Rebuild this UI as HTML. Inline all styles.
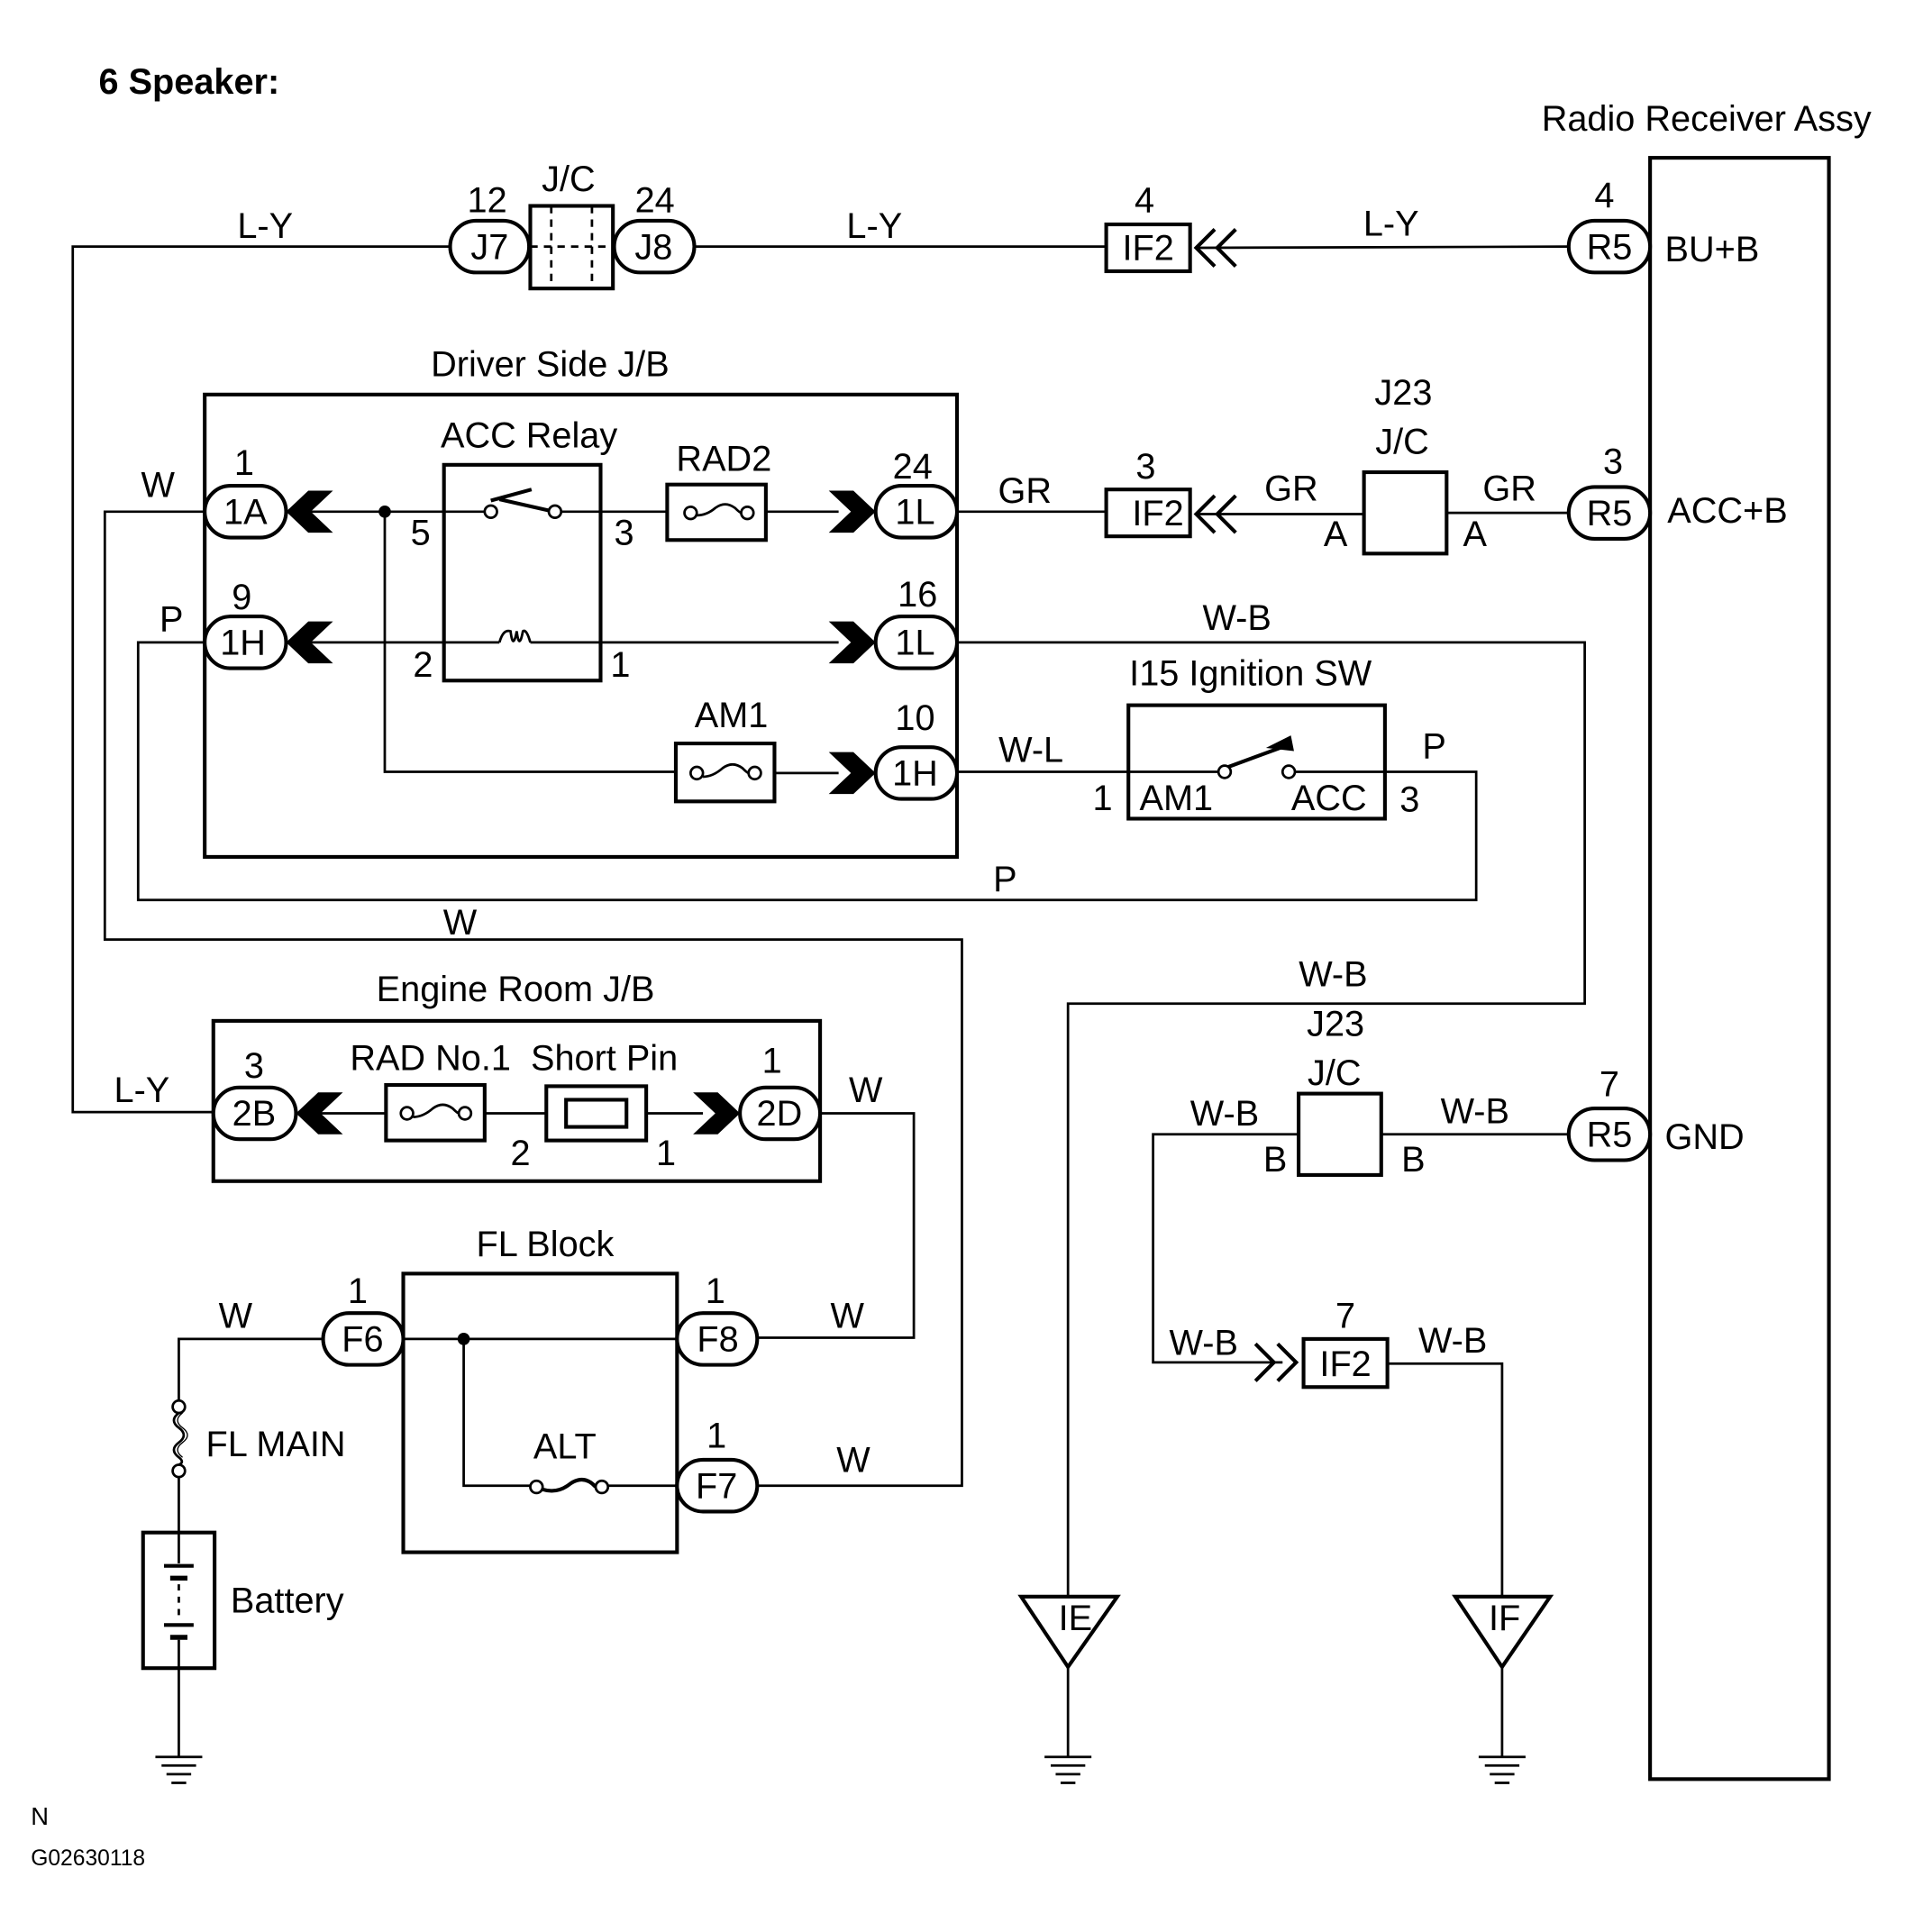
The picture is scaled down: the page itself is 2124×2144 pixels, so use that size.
<!DOCTYPE html>
<html><head><meta charset="utf-8"><style>
html,body{margin:0;padding:0;background:#fff;width:2124px;height:2144px;overflow:hidden}
svg{display:block}
text{font-family:"Liberation Sans",Arial,sans-serif;fill:#000}
</style></head><body>
<svg width="2124" height="2144" viewBox="0 0 1552 1567" preserveAspectRatio="none" xmlns="http://www.w3.org/2000/svg">
<defs>
<g id="chL"><polygon points="0,0 18,-17 38,-17 20,0 38,17 18,17" fill="#000"/></g>
<g id="chR"><polygon points="0,0 -18,-17 -38,-17 -20,0 -38,17 -18,17" fill="#000"/></g>
<g id="gnd" stroke="#000" stroke-width="2"><line x1="-19" y1="0" x2="19" y2="0"/><line x1="-14" y1="7" x2="14" y2="7"/><line x1="-10" y1="14" x2="10" y2="14"/><line x1="-6" y1="21" x2="6" y2="21"/></g>
</defs>
<g fill="none" stroke="#000" stroke-width="2">
<rect x="1338" y="128" width="145" height="1315" stroke-width="3"/>
<polyline points="365,200 59,200 59,902 173,902"/>
<rect x="430" y="167" width="67" height="67" stroke-width="3"/>
<line x1="447" y1="167" x2="447" y2="234" stroke-dasharray="6,5"/>
<line x1="480" y1="167" x2="480" y2="234" stroke-dasharray="6,5"/>
<line x1="430" y1="200" x2="497" y2="200" stroke-dasharray="6,5"/>
<line x1="563" y1="200" x2="897" y2="200"/>
<rect x="897" y="182" width="68" height="38" stroke-width="3"/>
<polyline points="985,186 970,201 985,216" stroke-width="3"/>
<polyline points="1002,186 987,201 1002,216" stroke-width="3"/>
<line x1="970" y1="201" x2="1272" y2="200"/>
<rect x="166" y="320" width="610" height="375" stroke-width="3"/>
<polyline points="166,415 85,415 85,762 780,762 780,1205 614,1205"/>
<line x1="232" y1="415" x2="360" y2="415"/>
<rect x="360" y="377" width="127" height="175" stroke-width="3"/>
<line x1="360" y1="415" x2="393" y2="415"/>
<circle cx="398" cy="415" r="5"/>
<line x1="398" y1="406" x2="431" y2="397" stroke-width="3"/>
<line x1="405" y1="405" x2="445" y2="414" stroke-width="3"/>
<circle cx="450" cy="415" r="5"/>
<line x1="455" y1="415" x2="541" y2="415"/>
<rect x="541" y="393" width="80" height="45" stroke-width="3"/>
<circle cx="560" cy="416" r="5"/><circle cx="606" cy="416" r="5"/>
<path d="M565,418 Q573,418 580,412 Q588,406 596,412 Q600,416 601,416"/>
<line x1="621" y1="415" x2="680" y2="415"/>
<line x1="776" y1="415" x2="897" y2="415"/>
<rect x="897" y="397" width="68" height="38" stroke-width="3"/>
<polyline points="985,402 970,417 985,432" stroke-width="3"/>
<polyline points="1002,402 987,417 1002,432" stroke-width="3"/>
<line x1="970" y1="417" x2="1106" y2="417"/>
<rect x="1106" y="383" width="67" height="66" stroke-width="3"/>
<line x1="1173" y1="416" x2="1272" y2="416"/>
<polyline points="166,521 112,521 112,730 1197,730 1197,626 1123,626"/>
<line x1="232" y1="521" x2="405" y2="521"/>
<path d="M405,521 Q408,510 414,512 Q416,528 419,512 Q421,528 424,512 Q427,510 430,521"/>
<line x1="430" y1="521" x2="680" y2="521"/>
<polyline points="776,521 1285,521 1285,814 866,814 866,1295"/>
<polyline points="312,415 312,626 548,626"/>
<rect x="548" y="603" width="80" height="47" stroke-width="3"/>
<circle cx="565" cy="627" r="5"/><circle cx="612" cy="627" r="5"/>
<path d="M570,630 Q578,630 586,623 Q594,617 602,623 Q606,627 607,627"/>
<line x1="628" y1="627" x2="680" y2="627"/>
<line x1="776" y1="626" x2="915" y2="626"/>
<rect x="915" y="572" width="208" height="92" stroke-width="3"/>
<line x1="915" y1="626" x2="988" y2="626"/>
<circle cx="993" cy="626" r="5"/><circle cx="1045" cy="626" r="5"/>
<line x1="996" y1="622" x2="1045" y2="604" stroke-width="3"/>
<polygon points="1030,606 1046,598 1048,608" fill="#000"/>
<line x1="1050" y1="626" x2="1123" y2="626"/>
<rect x="173" y="828" width="492" height="130" stroke-width="3"/>
<line x1="240" y1="903" x2="313" y2="903"/>
<rect x="313" y="880" width="80" height="45" stroke-width="3"/>
<circle cx="330" cy="903" r="5"/><circle cx="377" cy="903" r="5"/>
<path d="M335,906 Q343,906 351,899 Q359,893 367,899 Q371,903 372,903"/>
<line x1="393" y1="903" x2="443" y2="903"/>
<rect x="443" y="881" width="81" height="44" stroke-width="3"/>
<rect x="459" y="892" width="49" height="22" stroke-width="3"/>
<line x1="524" y1="903" x2="570" y2="903"/>
<polyline points="665,903 741,903 741,1085 614,1085"/>
<rect x="327" y="1033" width="222" height="226" stroke-width="3"/>
<line x1="327" y1="1086" x2="549" y2="1086"/>
<polyline points="376,1086 376,1205 430,1205"/>
<circle cx="435" cy="1206" r="5"/><circle cx="488" cy="1206" r="5"/>
<path d="M440,1208 Q452,1212 463,1203 Q474,1196 483,1206" stroke-width="3"/>
<line x1="493" y1="1205" x2="549" y2="1205"/>
<polyline points="262,1086 145,1086 145,1136"/>
<circle cx="145" cy="1141" r="5"/><circle cx="145" cy="1193" r="5"/>
<path d="M145,1146 Q137,1152 145,1158 Q153,1164 145,1170 Q137,1176 145,1182 Q150,1186 145,1188"/>
<path d="M148,1146 Q140,1152 148,1158 Q156,1164 148,1170 Q140,1176 148,1182" stroke-width="1"/>
<line x1="145" y1="1198" x2="145" y2="1243"/>
<rect x="116" y="1243" width="58" height="110" stroke-width="3"/>
<line x1="145" y1="1243" x2="145" y2="1268"/>
<line x1="133" y1="1270" x2="157" y2="1270" stroke-width="3"/>
<line x1="138" y1="1280" x2="152" y2="1280" stroke-width="4"/>
<line x1="145" y1="1285" x2="145" y2="1315" stroke-dasharray="5,5"/>
<line x1="133" y1="1318" x2="157" y2="1318" stroke-width="3"/>
<line x1="138" y1="1328" x2="152" y2="1328" stroke-width="4"/>
<line x1="145" y1="1330" x2="145" y2="1353"/>
<line x1="145" y1="1353" x2="145" y2="1425"/>
<rect x="1053" y="887" width="67" height="66" stroke-width="3"/>
<polyline points="1053,920 935,920 935,1105 1040,1105"/>
<line x1="1120" y1="920" x2="1272" y2="920"/>
<polyline points="1018,1090 1033,1105 1018,1120" stroke-width="3"/>
<polyline points="1036,1090 1051,1105 1036,1120" stroke-width="3"/>
<rect x="1057" y="1086" width="68" height="39" stroke-width="3"/>
<polyline points="1125,1106 1218,1106 1218,1295"/>
<polygon points="828,1295 906,1295 866,1352" stroke-width="3"/>
<line x1="866" y1="1352" x2="866" y2="1425"/>
<polygon points="1180,1295 1257,1295 1218,1352" stroke-width="3"/>
<line x1="1218" y1="1352" x2="1218" y2="1425"/>
<g stroke-width="3" fill="#fff">
<rect x="365" y="179" width="64" height="42" rx="21"/>
<rect x="498" y="179" width="65" height="42" rx="21"/>
<rect x="1272" y="179" width="66" height="42" rx="21"/>
<rect x="166" y="394" width="66" height="42" rx="21"/>
<rect x="710" y="394" width="66" height="42" rx="21"/>
<rect x="1272" y="395" width="66" height="42" rx="21"/>
<rect x="166" y="500" width="66" height="42" rx="21"/>
<rect x="710" y="500" width="66" height="42" rx="21"/>
<rect x="710" y="606" width="66" height="42" rx="21"/>
<rect x="173" y="882" width="67" height="42" rx="21"/>
<rect x="600" y="882" width="65" height="42" rx="21"/>
<rect x="262" y="1065" width="65" height="42" rx="21"/>
<rect x="549" y="1065" width="65" height="42" rx="21"/>
<rect x="549" y="1184" width="65" height="42" rx="21"/>
<rect x="1272" y="899" width="66" height="42" rx="21"/>
</g>
</g>
<use href="#chL" x="232" y="415"/>
<use href="#chL" x="232" y="521"/>
<use href="#chL" x="240" y="903"/>
<use href="#chR" x="710" y="415"/>
<use href="#chR" x="710" y="521"/>
<use href="#chR" x="710" y="627"/>
<use href="#chR" x="600" y="903"/>
<circle cx="312" cy="415" r="5" fill="#000"/>
<circle cx="376" cy="1086" r="5" fill="#000"/>
<use href="#gnd" x="145" y="1425"/>
<use href="#gnd" x="866" y="1425"/>
<use href="#gnd" x="1218" y="1425"/>
<g font-size="29">
<text x="80" y="76" font-weight="bold" font-size="29">6 Speaker:</text>
<text x="1250" y="106">Radio Receiver Assy</text>
<g text-anchor="middle">
<text x="397" y="210">J7</text><text x="530" y="210">J8</text><text x="931" y="211">IF2</text><text x="1305" y="210">R5</text>
<text x="199" y="425">1A</text><text x="742" y="425">1L</text><text x="939" y="426">IF2</text><text x="1305" y="426">R5</text>
<text x="197" y="531">1H</text><text x="742" y="531">1L</text><text x="742" y="637">1H</text>
<text x="206" y="913">2B</text><text x="632" y="913">2D</text>
<text x="294" y="1096">F6</text><text x="582" y="1096">F8</text><text x="581" y="1215">F7</text>
<text x="1305" y="930">R5</text><text x="1091" y="1116">IF2</text>
<text x="872" y="1322">IE</text><text x="1220" y="1322">IF</text>
<text x="215" y="193">L-Y</text><text x="395" y="172">12</text><text x="461" y="155">J/C</text><text x="531" y="172">24</text>
<text x="709" y="193">L-Y</text><text x="928" y="172">4</text><text x="1128" y="191">L-Y</text><text x="1301" y="168">4</text>
<text x="446" y="305">Driver Side J/B</text>
<text x="128" y="403">W</text><text x="198" y="385">1</text>
<text x="429" y="363">ACC Relay</text><text x="587" y="382">RAD2</text><text x="740" y="388">24</text>
<text x="341" y="442">5</text><text x="506" y="442">3</text>
<text x="831" y="408">GR</text><text x="929" y="388">3</text><text x="1047" y="406">GR</text><text x="1083" y="443">A</text>
<text x="1138" y="328">J23</text><text x="1137" y="368">J/C</text><text x="1224" y="406">GR</text><text x="1196" y="443">A</text><text x="1308" y="384">3</text>
<text x="139" y="512">P</text><text x="196" y="494">9</text><text x="343" y="549">2</text><text x="503" y="549">1</text><text x="744" y="492">16</text>
<text x="1003" y="511">W-B</text><text x="1014" y="556">I15 Ignition SW</text>
<text x="593" y="590">AM1</text><text x="742" y="592">10</text><text x="836" y="618">W-L</text>
<text x="894" y="657">1</text><text x="1143" y="658">3</text><text x="1163" y="615">P</text>
<text x="815" y="723">P</text><text x="373" y="758">W</text><text x="1081" y="800">W-B</text>
<text x="418" y="812">Engine Room J/B</text><text x="206" y="874">3</text><text x="349" y="868">RAD No.1</text><text x="490" y="868">Short Pin</text><text x="626" y="870">1</text>
<text x="422" y="945">2</text><text x="540" y="945">1</text><text x="115" y="894">L-Y</text><text x="702" y="894">W</text>
<text x="1083" y="840">J23</text><text x="1082" y="880">J/C</text><text x="993" y="913">W-B</text><text x="1034" y="950">B</text>
<text x="1196" y="911">W-B</text><text x="1146" y="950">B</text><text x="1305" y="889">7</text>
<text x="442" y="1019">FL Block</text><text x="290" y="1057">1</text><text x="580" y="1057">1</text><text x="581" y="1174">1</text>
<text x="458" y="1183">ALT</text><text x="687" y="1077">W</text><text x="692" y="1194">W</text><text x="191" y="1077">W</text>
<text x="976" y="1099">W-B</text><text x="1091" y="1077">7</text><text x="1178" y="1097">W-B</text>
</g>
<text x="1350" y="212">BU+B</text>
<text x="1352" y="424">ACC+B</text>
<text x="1350" y="932">GND</text>
<text x="924" y="657">AM1</text>
<text x="1047" y="657">ACC</text>
<text x="167" y="1181">FL MAIN</text>
<text x="187" y="1308">Battery</text>
<text x="25" y="1480" font-size="20">N</text>
<text x="25" y="1513" font-size="18">G02630118</text>
</g>
</svg>
</body></html>
